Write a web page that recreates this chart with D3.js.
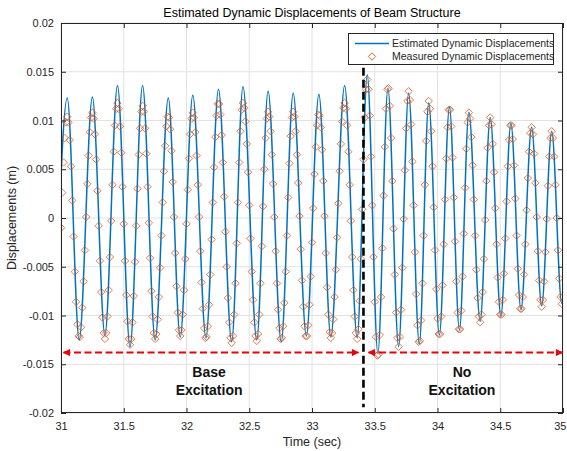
<!DOCTYPE html>
<html>
<head>
<meta charset="utf-8">
<script src="https://cdn.jsdelivr.net/npm/d3@7"></script>
<style>
  body { margin: 0; background: #fff; }
  svg { display: block; font-family: "Liberation Sans", Arial, sans-serif; }
</style>
</head>
<body>
<div id="chart"></div>
<script>
const w = 567;
const h = 451;
const margin = {top: 23, right: 4, bottom: 38, left: 61};

const xTicks = [31, 31.5, 32, 32.5, 33, 33.5, 34, 34.5, 35];
const yTicks = [-0.02, -0.015, -0.01, -0.005, 0, 0.005, 0.01, 0.015, 0.02];

// estimated displacement: peaks and troughs (mm)
const estimatedTime = [30.95, 31.05, 31.145, 31.25, 31.35, 31.45, 31.55, 31.65, 31.75, 31.855,
  31.95, 32.05, 32.155, 32.255, 32.36, 32.45, 32.56, 32.65, 32.755, 32.85,
  32.955, 33.055, 33.15, 33.26, 33.36, 33.44, 33.525, 33.605, 33.69, 33.77,
  33.855, 33.93, 34.015, 34.095, 34.175, 34.25, 34.34, 34.42, 34.505, 34.585,
  34.665, 34.75, 34.83, 34.91, 34.99, 35.07];
const estimatedMm = [-12.3, 12.3, -12.5, 12.4, -12.0, 13.6, -13.2, 13.6, -12.5, 12.3,
  -12.2, 12.6, -12.3, 13.2, -12.7, 13.5, -12.5, 13.0, -12.7, 12.8,
  -12.1, 12.7, -12.2, 13.6, -12.3, 14.7, -13.9, 13.3, -13.2, 12.8,
  -12.9, 11.8, -12.0, 11.35, -11.5, 10.85, -10.6, 10.3, -10.05, 9.7,
  -9.4, 9.3, -9.0, 8.9, -8.75, 8.5];

// measured displacement, one sample every 0.01 s starting at 31 s (mm)
const measuredStart = 31;
const measuredStep = 0.01;
const measuredMm = [
  -1.0, 2.6, 5.7, 8.2, 9.8, 10.4, 9.8, 8.0, 5.3, 1.8,
  -1.9, -5.5, -8.6, -10.9, -12.1, -12.2, -11.2, -9.2, -6.5, -3.3,
  0.1, 3.5, 6.4, 8.8, 10.3, 10.8, 10.2, 8.6, 6.0, 2.8,
  -0.8, -4.4, -7.6, -10.2, -11.8, -12.4, -11.8, -10.1, -7.4, -4.0,
  -0.3, 3.4, 6.8, 9.5, 11.2, 11.8, 11.2, 9.4, 6.7, 3.2,
  -0.6, -4.4, -7.9, -10.6, -12.4, -13.0, -12.4, -10.7, -8.0, -4.5,
  -0.8, 3.0, 6.5, 9.2, 10.9, 11.5, 10.9, 9.2, 6.6, 3.2,
  -0.5, -4.1, -7.5, -10.1, -11.8, -12.4, -11.9, -10.4, -8.1, -5.1,
  -1.8, 1.6, 4.8, 7.4, 9.4, 10.4, 10.3, 9.1, 6.9, 3.7,
  0.1, -3.6, -7.0, -9.7, -11.5, -12.1, -11.5, -9.9, -7.4, -4.2,
  -0.6, 2.9, 6.1, 8.6, 10.2, 10.8, 10.3, 8.8, 6.4, 3.4,
  0.1, -3.4, -6.6, -9.3, -11.3, -12.3, -12.2, -11.1, -8.9, -5.8,
  -2.2, 1.6, 5.2, 8.3, 10.5, 11.7, 11.7, 10.6, 8.5, 5.7,
  2.2, -1.4, -5.0, -8.2, -10.7, -12.3, -12.8, -12.1, -9.9, -6.7,
  -2.6, 1.6, 5.7, 8.9, 11.1, 11.8, 11.3, 9.9, 7.6, 4.7,
  1.3, -2.1, -5.5, -8.4, -10.7, -12.1, -12.6, -11.9, -9.9, -6.7,
  -2.9, 1.2, 5.0, 8.2, 10.2, 10.9, 10.4, 8.9, 6.5, 3.5,
  0.1, -3.4, -6.7, -9.4, -11.3, -12.4, -12.3, -11.1, -8.7, -5.5,
  -1.8, 2.1, 5.6, 8.4, 10.3, 10.9, 10.4, 8.9, 6.5, 3.6,
  0.2, -3.2, -6.4, -9.1, -11.1, -12.1, -12.1, -11.0, -8.9, -6.0,
  -2.5, 1.0, 4.5, 7.3, 9.5, 10.6, 10.5, 9.3, 7.0, 3.8,
  0.2, -3.6, -7.1, -9.9, -11.7, -12.3, -11.8, -10.4, -8.1, -5.3,
  -2.0, 1.5, 4.8, 7.6, 9.9, 11.3, 11.8, 11.2, 9.5, 6.8,
  3.4, -0.3, -4.0, -7.4, -10.1, -11.8, -12.4, -11.4, -8.5, -4.2,
  0.9, 6.0, 10.3, 13.2, 14.2, 13.2, 10.5, 6.3, 1.3, -4.0,
  -8.6, -12.2, -14.1, -14.0, -12.0, -8.1, -3.1, 2.3, 7.3, 11.2,
  13.2, 13.3, 11.5, 8.2, 3.8, -1.1, -5.8, -9.7, -12.3, -13.2,
  -12.2, -9.4, -5.1, -0.1, 4.9, 9.2, 12.0, 13.0, 12.1, 9.6,
  5.8, 1.3, -3.5, -7.8, -11.0, -12.7, -12.6, -10.5, -6.7, -1.8,
  3.4, 7.9, 10.9, 12.0, 11.2, 8.9, 5.3, 1.1, -3.3, -7.3,
  -10.3, -11.9, -11.9, -10.1, -6.9, -2.7, 1.9, 6.1, 9.3, 11.1,
  11.1, 9.4, 6.2, 2.1, -2.4, -6.5, -9.7, -11.4, -11.4, -9.5,
  -6.0, -1.6, 3.1, 7.1, 9.8, 10.8, 10.2, 8.3, 5.4, 1.9,
  -1.8, -5.3, -8.2, -10.1, -10.7, -9.9, -7.6, -4.2, -0.2, 3.8,
  7.2, 9.5, 10.3, 9.6, 7.6, 4.7, 1.0, -2.7, -6.1, -8.6,
  -9.9, -9.9, -8.4, -5.7, -2.1, 1.7, 5.3, 8.0, 9.5, 9.5,
  8.1, 5.4, 2.0, -1.8, -5.2, -7.9, -9.3, -9.3, -8.1, -5.8,
  -2.7, 0.8, 4.1, 6.8, 8.7, 9.3, 8.6, 6.6, 3.6, 0.1,
  -3.4, -6.4, -8.4, -9.1, -8.4, -6.5, -3.5, -0.1, 3.3, 6.3,
  8.2, 8.9, 8.2, 6.3, 3.4, 0.0, -3.3, -6.2, -8.1, -8.8,
  -8.1];

const excitationStop = 33.41;

const estimated = estimatedTime.map((t, i) => ({t: t, v: estimatedMm[i] / 1000}));
const measured = measuredMm.map((v, i) => ({t: measuredStart + i * measuredStep, v: v / 1000}));

const textColor = "#262626";
const blue = "#0072BD";
const orange = "#D95319";
const red = "#e8000b";

const svg = d3.select("#chart").append("svg").attr("width", w).attr("height", h);

const x = d3.scaleLinear().domain([31, 35]).range([margin.left, w - margin.right]);
const y = d3.scaleLinear().domain([-0.02, 0.02]).range([h - margin.bottom, margin.top]);

// grid
svg.append("g").selectAll("line").data(xTicks).enter().append("line")
    .attr("x1", d => x(d)).attr("x2", d => x(d))
    .attr("y1", margin.top).attr("y2", h - margin.bottom)
    .style("stroke", "#e2e2e2").style("stroke-width", 1);
svg.append("g").selectAll("line").data(yTicks).enter().append("line")
    .attr("x1", margin.left).attr("x2", w - margin.right)
    .attr("y1", d => y(d)).attr("y2", d => y(d))
    .style("stroke", "#e2e2e2").style("stroke-width", 1);

svg.append("clipPath").attr("id", "plot-clip").append("rect")
    .attr("x", margin.left).attr("y", margin.top)
    .attr("width", w - margin.left - margin.right).attr("height", h - margin.top - margin.bottom);

const plot = svg.append("g").attr("clip-path", "url(#plot-clip)");

plot.append("path")
    .datum(estimated)
    .attr("d", d3.line().x(d => x(d.t)).y(d => y(d.v)).curve(d3.curveMonotoneX))
    .style("fill", "none")
    .style("stroke", blue)
    .style("stroke-width", 1.5);

const diamond = r => `M0,${-r}L${r},0L0,${r}L${-r},0Z`;

plot.selectAll(".measured")
    .data(measured)
    .enter()
    .append("path")
    .attr("class", "measured")
    .attr("d", diamond(3.7))
    .attr("transform", d => `translate(${x(d.t)},${y(d.v)})`)
    .style("fill", "none")
    .style("stroke", orange)
    .style("stroke-width", 0.9)
    .style("opacity", 0.85);

// axes, ticks inside on all four sides
const tickLen = 5;
const styleAxis = g => {
    g.select(".domain").remove();
    g.selectAll(".tick line").style("stroke", textColor);
    g.selectAll("text").style("fill", textColor).style("font-size", "11px");
};

svg.append("g")
    .attr("transform", `translate(0,${h - margin.bottom})`)
    .call(d3.axisBottom(x).tickValues(xTicks).tickSize(-tickLen).tickPadding(9).tickFormat(d => String(d)))
    .call(styleAxis)
    .call(g => g.selectAll(".tick text").filter(d => d === 35).attr("text-anchor", "end").attr("x", 3));
svg.append("g")
    .attr("transform", `translate(0,${margin.top})`)
    .call(d3.axisTop(x).tickValues(xTicks).tickSize(-tickLen).tickFormat(""))
    .call(styleAxis);
svg.append("g")
    .attr("transform", `translate(${margin.left},0)`)
    .call(d3.axisLeft(y).tickValues(yTicks).tickSize(-tickLen).tickPadding(7).tickFormat(d => String(d)))
    .call(styleAxis);
svg.append("g")
    .attr("transform", `translate(${w - margin.right},0)`)
    .call(d3.axisRight(y).tickValues(yTicks).tickSize(-tickLen).tickFormat(""))
    .call(styleAxis);

svg.append("rect")
    .attr("x", margin.left + 0.5).attr("y", margin.top + 0.5)
    .attr("width", w - margin.left - margin.right - 1).attr("height", h - margin.top - margin.bottom - 1)
    .style("fill", "none").style("stroke", textColor).style("stroke-width", 1);

// end of base excitation
svg.append("line")
    .attr("x1", x(excitationStop)).attr("x2", x(excitationStop))
    .attr("y1", y(0.0154)).attr("y2", y(-0.0194))
    .style("stroke", "#000").style("stroke-width", 2.6).style("stroke-dasharray", "8,4");

// red double arrows
svg.append("defs").append("marker")
    .attr("id", "arrow")
    .attr("viewBox", "0 0 10 10")
    .attr("refX", 9).attr("refY", 5)
    .attr("markerWidth", 4.2).attr("markerHeight", 3.6)
    .attr("orient", "auto-start-reverse")
    .append("path").attr("d", "M0,0L10,5L0,10Z").style("fill", red);

[[31.02, 33.37], [33.45, 34.995]].forEach(span => {
    svg.append("line")
        .attr("x1", x(span[0])).attr("x2", x(span[1]))
        .attr("y1", y(-0.0138)).attr("y2", y(-0.0138))
        .style("stroke", red).style("stroke-width", 2).style("stroke-dasharray", "7,3.5")
        .attr("marker-start", "url(#arrow)").attr("marker-end", "url(#arrow)");
});

[["Base", 32.18, -0.0158], ["Excitation", 32.18, -0.0176],
 ["No", 34.195, -0.0158], ["Excitation", 34.195, -0.0176]].forEach(a => {
    svg.append("text")
        .attr("x", x(a[1])).attr("y", y(a[2]) + 5)
        .attr("text-anchor", "middle")
        .style("font-size", "14px").style("font-weight", "bold").style("fill", "#111")
        .text(a[0]);
});

// legend
const legend = svg.append("g");
legend.append("rect")
    .attr("x", 348.5).attr("y", 33.5).attr("width", 205).attr("height", 31)
    .style("fill", "#fff").style("stroke", textColor).style("stroke-width", 1);
legend.append("line")
    .attr("x1", 355).attr("x2", 389).attr("y1", 43.5).attr("y2", 43.5)
    .style("stroke", blue).style("stroke-width", 1.5);
legend.append("path")
    .attr("d", diamond(3.7)).attr("transform", "translate(372,56.5)")
    .style("fill", "none").style("stroke", orange).style("stroke-width", 0.9);
legend.selectAll("text")
    .data(["Estimated Dynamic Displacements", "Measured Dynamic Displacements"])
    .enter().append("text")
    .attr("x", 392).attr("y", (d, i) => 47.3 + i * 13)
    .style("font-size", "10.5px").style("fill", textColor)
    .text(d => d);

// titles
svg.append("text")
    .attr("x", (margin.left + w - margin.right) / 2).attr("y", 17)
    .attr("text-anchor", "middle")
    .style("font-size", "12.5px").style("fill", "#000")
    .text("Estimated Dynamic Displacements of Beam Structure");
svg.append("text")
    .attr("x", (margin.left + w - margin.right) / 2).attr("y", 446)
    .attr("text-anchor", "middle")
    .style("font-size", "12.5px").style("fill", textColor)
    .text("Time (sec)");
svg.append("text")
    .attr("transform", `translate(16,${(margin.top + h - margin.bottom) / 2}) rotate(-90)`)
    .attr("text-anchor", "middle")
    .style("font-size", "12.5px").style("fill", textColor)
    .text("Displacements (m)");
</script>
</body>
</html>
